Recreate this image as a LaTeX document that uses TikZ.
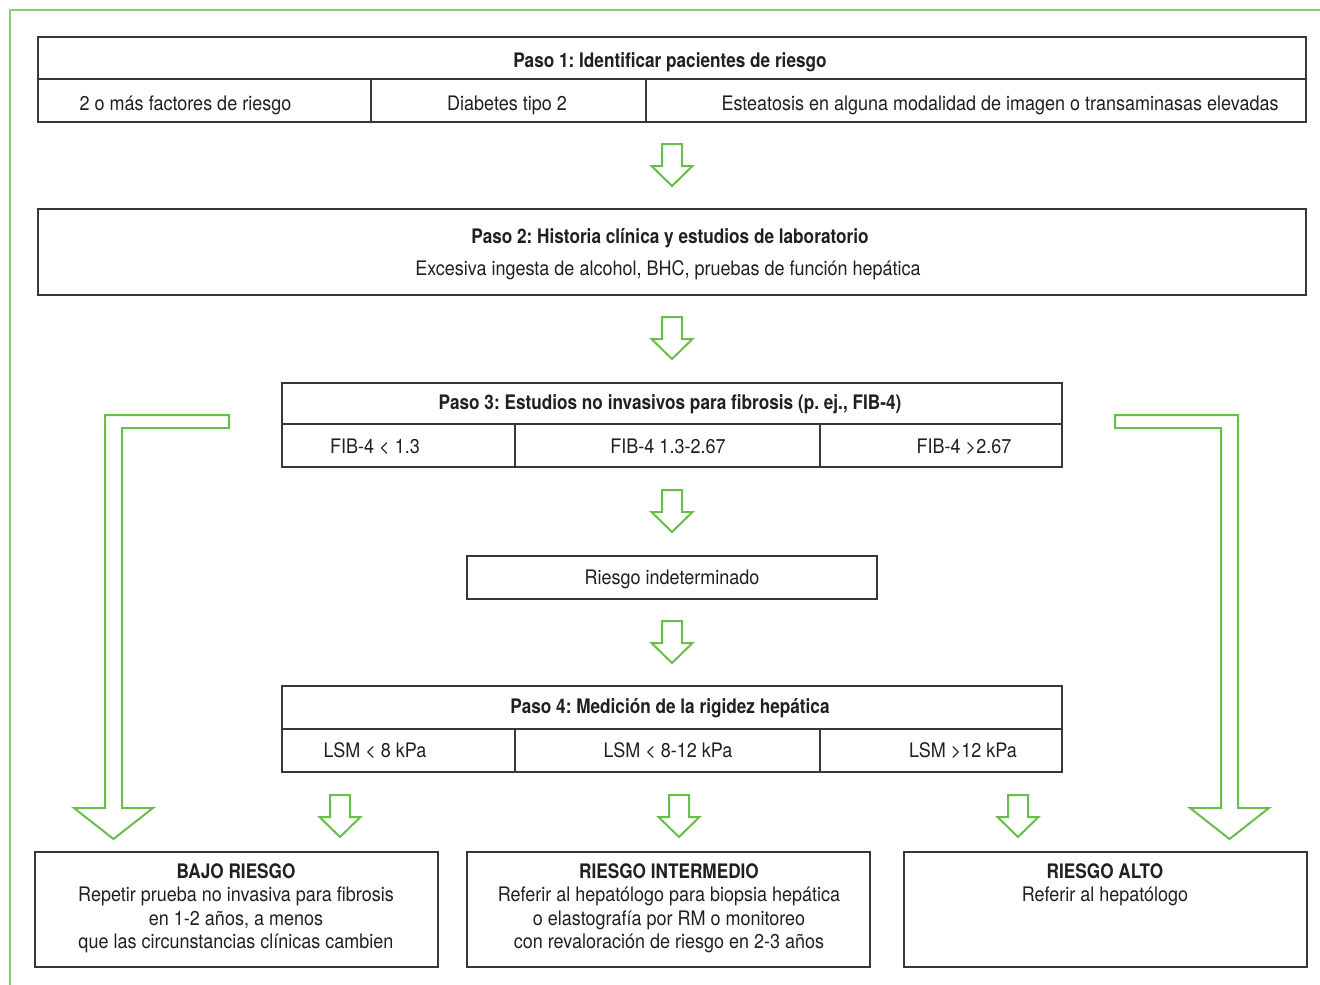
\documentclass[tikz,border=0pt]{standalone}
\usepackage{fontspec}
\setmainfont{TeX Gyre Heros}[FakeStretch=0.90,BoldFeatures={FakeStretch=0.86}]
\frenchspacing
\definecolor{grn}{RGB}{104,190,72}
\definecolor{frm}{RGB}{135,208,105}
\definecolor{ink}{RGB}{35,31,32}
\definecolor{boxline}{RGB}{55,55,55}
\tikzset{
  cellbox/.style args={#1x#2}{draw=boxline, line width=1.3pt, rectangle, inner sep=0pt,
     minimum width=#1pt, minimum height=#2pt},
  txt/.style={font=\fontsize{20}{24}\selectfont, text=ink, inner sep=0pt, anchor=base},
  ttl/.style={txt, font=\fontsize{20}{24}\selectfont\bfseries},
  arrowline/.style={draw=grn, line width=2pt, line join=miter, fill=white},
  pics/downarrow/.style={code={
    \draw[arrowline] (-10,0) -- (10,0) -- (10,22) -- (20.5,22) -- (0,42) -- (-20.5,22) -- (-10,22) -- cycle;
  }}
}
\begin{document}
\begin{tikzpicture}[x=1pt,y=-1pt]
\useasboundingbox (0,0) rectangle (1320,985);
% frame
\draw[frm, line width=1.5pt] (10,985) -- (10,10) -- (1320,10);

% Paso 1
\node[cellbox=1268x42] (p1) at (672,58) {};
\node[cellbox=333x43] (p1a) at (204.5,100.5) {};
\node[cellbox=275x43] (p1b) at (508.5,100.5) {};
\node[cellbox=660x43] (p1c) at (976,100.5) {};
\node[ttl] (p1t) at (670,67) {Paso 1: Identificar pacientes de riesgo};
\node[txt] (p1at) at (185.5,110) {2 o más factores de riesgo};
\node[txt] (p1bt) at (507,110) {Diabetes tipo 2};
\node[txt] (p1ct) at (1000,110) {Esteatosis en alguna modalidad de imagen o transaminasas elevadas};

% Paso 2
\node[cellbox=1268x86] (p2) at (672,252) {};
\node[ttl] (p2t) at (670,243) {Paso 2: Historia clínica y estudios de laboratorio};
\node[txt] (p2s) at (668,275) {Excesiva ingesta de alcohol, BHC, pruebas de función hepática};

% Paso 3
\node[cellbox=780x41] (p3) at (672,403.5) {};
\node[cellbox=233x43] (p3a) at (398.5,445.5) {};
\node[cellbox=305x43] (p3b) at (667.5,445.5) {};
\node[cellbox=242x43] (p3c) at (941,445.5) {};
\node[ttl] (p3t) at (670,409) {Paso 3: Estudios no invasivos para fibrosis (p. ej., FIB-4)};
\node[txt] (p3at) at (375,453) {FIB-4 < 1.3};
\node[txt] (p3bt) at (668,453) {FIB-4 1.3-2.67};
\node[txt] (p3ct) at (964,453) {FIB-4 >2.67};

% Riesgo indeterminado
\node[cellbox=410x43] (ri) at (672,577.5) {};
\node[txt] (rit) at (672,584) {Riesgo indeterminado};

% Paso 4
\node[cellbox=780x43] (p4) at (672,707.5) {};
\node[cellbox=233x43] (p4a) at (398.5,750.5) {};
\node[cellbox=305x43] (p4b) at (667.5,750.5) {};
\node[cellbox=242x43] (p4c) at (941,750.5) {};
\node[ttl] (p4t) at (670,713) {Paso 4: Medición de la rigidez hepática};
\node[txt] (p4at) at (375,757) {LSM < 8 kPa};
\node[txt] (p4bt) at (668,757) {LSM < 8-12 kPa};
\node[txt] (p4ct) at (963,757) {LSM >12 kPa};

% Bottom boxes
\node[cellbox=403x115] (bajo) at (236.5,909.5) {};
\node[cellbox=403x115] (inter) at (668.5,909.5) {};
\node[cellbox=403x115] (alto) at (1105.5,909.5) {};
\node[ttl] (bajot) at (236,878) {BAJO RIESGO};
\node[txt] (bajo1) at (236,901) {Repetir prueba no invasiva para fibrosis};
\node[txt] (bajo2) at (236,925) {en 1-2 años, a menos};
\node[txt] (bajo3) at (236,948.5) {que las circunstancias clínicas cambien};
\node[ttl] (intert) at (669,878) {RIESGO INTERMEDIO};
\node[txt] (inter1) at (669,901) {Referir al hepatólogo para biopsia hepática};
\node[txt] (inter2) at (669,925) {o elastografía por RM o monitoreo};
\node[txt] (inter3) at (669,948.5) {con revaloración de riesgo en 2-3 años};
\node[ttl] (altot) at (1105,878) {RIESGO ALTO};
\node[txt] (alto1) at (1105,901) {Referir al hepatólogo};

% small block arrows
\coordinate (a1) at (672,144);
\coordinate (a2) at (672,317);
\coordinate (a3) at (672,490);
\coordinate (a4) at (672,621);
\coordinate (a5) at (340,795);
\coordinate (a6) at (679,795);
\coordinate (a7) at (1018,795);
\foreach \c in {a1,a2,a3,a4,a5,a6,a7} { \pic at (\c) {downarrow}; }

% long L-shaped arrows
\coordinate (lstart) at (229,415);
\coordinate (rstart) at (1115,415);
\draw[arrowline] (lstart) -- (105,415) -- (105,808) -- (74,808) -- (113.5,839) -- (153,808) -- (122,808) -- (122,428) -- (229,428) -- cycle;
\draw[arrowline] (rstart) -- (1238,415) -- (1238,808) -- (1269,808) -- (1229.5,839) -- (1190,808) -- (1221,808) -- (1221,428) -- (1115,428) -- cycle;
\end{tikzpicture}
\end{document}
